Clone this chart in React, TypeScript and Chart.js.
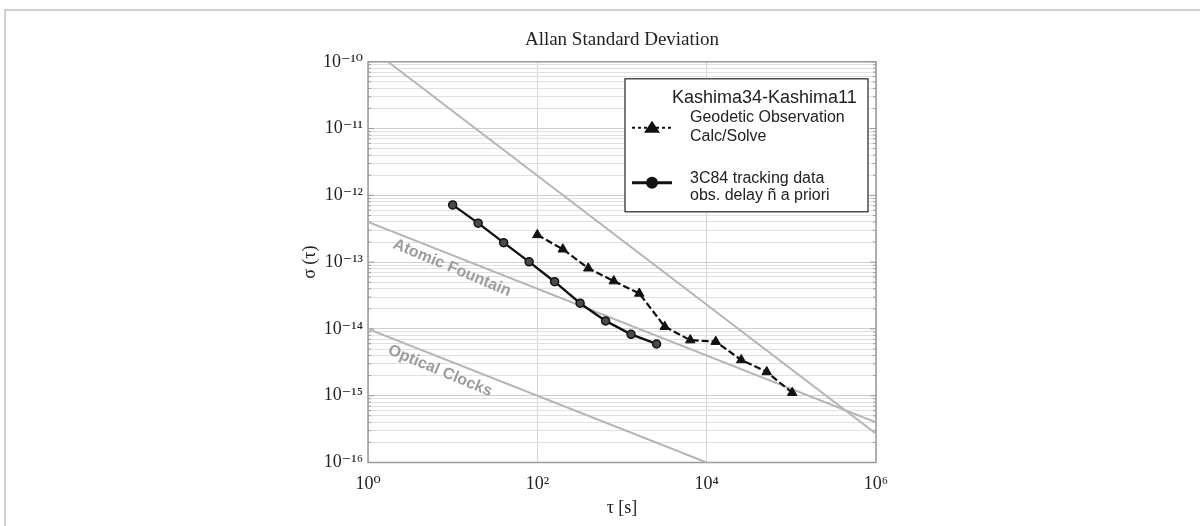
import React, { useEffect, useRef } from 'react';
import { Chart, registerables } from 'chart.js';

Chart.register(...registerables);

// ---- data ----
const trackingTau = [10, 20, 40, 80, 160, 320, 640, 1280, 2560];
const trackingSigma = [7.2e-13, 3.84e-13, 1.96e-13, 1.01e-13, 5.1e-14, 2.43e-14, 1.32e-14, 8.3e-15, 5.95e-15];

const geodeticTau = [100, 200, 400, 800, 1600, 3200, 6400, 12800, 25600, 51200, 102400];
const geodeticSigma = [2.56e-13, 1.56e-13, 8.1e-14, 5.2e-14, 3.4e-14, 1.08e-14, 6.8e-15, 6.45e-15, 3.43e-15, 2.27e-15, 1.11e-15];

const steepTau = [1.72, 1e6];
const steepSigma = [1e-10, 2.7e-16];
const fountainTau = [1, 1e6];
const fountainSigma = [4e-13, 4e-16];
const opticalTau = [1, 1e4];
const opticalSigma = [1e-14, 1e-16];

const xTickValues = [1, 1e2, 1e4, 1e6];
const yDecadeExponents = [-16, -15, -14, -13, -12, -11, -10];
const yMinorMultipliers = [2, 3, 4, 5, 6, 7, 8, 9];

const chartTitle = 'Allan Standard Deviation';
const xAxisTitle = 'τ [s]';
const yAxisTitle = 'σ (τ)';
const legendTitle = 'Kashima34-Kashima11';
const geodeticLabel = ['Geodetic Observation', 'Calc/Solve'];
const trackingLabel = ['3C84 tracking data', 'obs. delay ñ a priori'];
const fountainText = 'Atomic Fountain';
const opticalText = 'Optical Clocks';
const fountainTextAt = [9.8, 8.2e-14];
const opticalTextAt = [7.1, 2.35e-15];

const SERIF = "'Liberation Serif', 'DejaVu Serif', 'Times New Roman', serif";
const SANS = "'Liberation Sans', Arial, 'DejaVu Sans', sans-serif";

const SUP: Record<string, string> = {
  '-': '\u207B', '0': '\u2070', '1': '\u00B9', '2': '\u00B2', '3': '\u00B3',
  '4': '\u2074', '5': '\u2075', '6': '\u2076', '7': '\u2077', '8': '\u2078', '9': '\u2079',
};
const isDecade = (v: number) => Math.abs(Math.log10(v) - Math.round(Math.log10(v))) < 1e-6;
const powLabel = (v: number) => {
  const e = Math.round(Math.log10(v));
  return '10' + String(e).split('').map((c) => SUP[c]).join('');
};

const yTickValues: number[] = [];
yDecadeExponents.forEach((e, i) => {
  yTickValues.push(Math.pow(10, e));
  if (i < yDecadeExponents.length - 1) yMinorMultipliers.forEach((m) => yTickValues.push(m * Math.pow(10, e)));
});

const toPoints = (xs: number[], ys: number[]) => xs.map((x, i) => ({ x, y: ys[i] }));

const GRAY_LINE = '#b5b5b5';

const overlayPlugin = {
  id: 'overlay',
  beforeDatasetsDraw(chart: any) {
    const { ctx, chartArea, scales } = chart;
    const x = scales.x, y = scales.y;
    ctx.save();
    // plot frame
    ctx.strokeStyle = '#9a9a9a';
    ctx.lineWidth = 1.5;
    ctx.strokeRect(chartArea.left, chartArea.top, chartArea.right - chartArea.left, chartArea.bottom - chartArea.top);
    // small minor tick marks on left and right edges
    ctx.lineWidth = 1;
    yTickValues.forEach((v) => {
      const py = y.getPixelForValue(v);
      const len = isDecade(v) ? 6 : 3;
      ctx.beginPath();
      ctx.moveTo(chartArea.left, py); ctx.lineTo(chartArea.left + len, py);
      ctx.moveTo(chartArea.right, py); ctx.lineTo(chartArea.right - len, py);
      ctx.stroke();
    });
    // rotated annotations
    const drawLabel = (text: string, at: number[], tau: number[], sig: number[]) => {
      const px = x.getPixelForValue(at[0]);
      const py = y.getPixelForValue(at[1]);
      const dx = x.getPixelForValue(tau[1]) - x.getPixelForValue(tau[0]);
      const dy = y.getPixelForValue(sig[1]) - y.getPixelForValue(sig[0]);
      const ang = Math.atan2(dy, dx) + 0.02;
      ctx.save();
      ctx.translate(px, py);
      ctx.rotate(ang);
      ctx.font = `bold 16px ${SANS}`;
      ctx.fillStyle = '#9c9c9c';
      ctx.textAlign = 'center';
      ctx.textBaseline = 'middle';
      ctx.fillText(text, 0, 0);
      ctx.restore();
    };
    drawLabel(fountainText, fountainTextAt, fountainTau, fountainSigma);
    drawLabel(opticalText, opticalTextAt, opticalTau, opticalSigma);
    ctx.restore();
  },
  afterDatasetsDraw(chart: any) {
    const { ctx, chartArea } = chart;
    const L = chartArea.left + 257;
    const T = chartArea.top + 17;
    const W = 243;
    const H = 133;
    ctx.save();
    ctx.fillStyle = '#ffffff';
    ctx.fillRect(L, T, W, H);
    ctx.strokeStyle = '#222';
    ctx.lineWidth = 1.2;
    ctx.strokeRect(L, T, W, H);
    ctx.fillStyle = '#222';
    ctx.textAlign = 'left';
    ctx.textBaseline = 'middle';
    ctx.font = `18px ${SANS}`;
    ctx.fillText(legendTitle, L + 47, T + 19);
    ctx.font = `16px ${SANS}`;
    ctx.fillText(geodeticLabel[0], L + 65, T + 39);
    ctx.fillText(geodeticLabel[1], L + 65, T + 58);
    ctx.fillText(trackingLabel[0], L + 65, T + 100);
    ctx.fillText(trackingLabel[1], L + 65, T + 117);
    // symbol 1: dotted line + triangle
    const s1y = T + 49;
    ctx.strokeStyle = '#111';
    ctx.lineWidth = 2;
    ctx.setLineDash([3, 3]);
    ctx.beginPath(); ctx.moveTo(L + 7, s1y); ctx.lineTo(L + 47, s1y); ctx.stroke();
    ctx.setLineDash([]);
    ctx.fillStyle = '#111';
    ctx.beginPath();
    ctx.moveTo(L + 27, s1y - 7); ctx.lineTo(L + 35, s1y + 5); ctx.lineTo(L + 19, s1y + 5); ctx.closePath();
    ctx.fill();
    // symbol 2: solid line + circle
    const s2y = T + 104;
    ctx.lineWidth = 3;
    ctx.beginPath(); ctx.moveTo(L + 7, s2y); ctx.lineTo(L + 47, s2y); ctx.stroke();
    ctx.beginPath(); ctx.arc(L + 27, s2y, 6, 0, Math.PI * 2); ctx.fill();
    ctx.restore();
  },
};

export default function App() {
  const ref = useRef<HTMLCanvasElement>(null);
  useEffect(() => {
    const chart = new Chart(ref.current as HTMLCanvasElement, {
      type: 'line',
      data: {
        datasets: [
          {
            label: trackingLabel.join(' '),
            data: toPoints(trackingTau, trackingSigma),
            borderColor: '#111',
            borderWidth: 2.4,
            pointStyle: 'circle',
            pointRadius: 4,
            pointBackgroundColor: '#4a4a4a',
            pointBorderColor: '#111',
            pointBorderWidth: 1.5,
          },
          {
            label: geodeticLabel.join(' '),
            data: toPoints(geodeticTau, geodeticSigma),
            borderColor: '#111',
            borderWidth: 2.2,
            borderDash: [7, 3],
            pointStyle: 'triangle',
            pointRadius: 5.5,
            pointBackgroundColor: '#111',
            pointBorderColor: '#111',
            pointBorderWidth: 1,
          },
          {
            label: 'reference slope',
            data: toPoints(steepTau, steepSigma),
            borderColor: GRAY_LINE,
            borderWidth: 2,
            pointRadius: 0,
          },
          {
            label: fountainText,
            data: toPoints(fountainTau, fountainSigma),
            borderColor: GRAY_LINE,
            borderWidth: 2,
            pointRadius: 0,
          },
          {
            label: opticalText,
            data: toPoints(opticalTau, opticalSigma),
            borderColor: GRAY_LINE,
            borderWidth: 2,
            pointRadius: 0,
          },
        ],
      },
      options: {
        responsive: false,
        animation: false,
        events: [],
        layout: { padding: { left: 280, right: 324, top: 10, bottom: 0 } },
        plugins: {
          legend: { display: false },
          tooltip: { enabled: false },
          title: {
            display: true,
            text: chartTitle,
            fullSize: false,
            color: '#222',
            font: { family: SERIF, size: 19, weight: 'normal' },
            padding: { top: 19, bottom: 10 },
          },
        },
        scales: {
          x: {
            type: 'logarithmic',
            min: 1,
            max: 1e6,
            afterBuildTicks: (scale: any) => {
              scale.ticks = xTickValues.map((v) => ({ value: v }));
            },
            afterFit: (scale: any) => {
              scale.height = 63.5;
            },
            border: { display: false },
            grid: { color: '#d4d4d4', lineWidth: 1, drawTicks: false },
            ticks: {
              autoSkip: false,
              maxRotation: 0,
              padding: 11,
              color: '#222',
              font: { family: SERIF, size: 18 },
              callback: (v: any) => powLabel(Number(v)),
            },
            title: {
              display: true,
              text: xAxisTitle,
              color: '#222',
              font: { family: SERIF, size: 18 },
              padding: { top: 0, bottom: 7 },
            },
          },
          y: {
            type: 'logarithmic',
            min: 1e-16,
            max: 1e-10,
            afterBuildTicks: (scale: any) => {
              scale.ticks = yTickValues.map((v) => ({ value: v }));
            },
            afterFit: (scale: any) => {
              scale.width = 88;
            },
            border: { display: false },
            grid: {
              color: (c: any) => (c.tick && isDecade(c.tick.value) ? '#cfcfcf' : '#e0e0e0'),
              lineWidth: 1,
              drawTicks: false,
            },
            ticks: {
              autoSkip: false,
              padding: 5,
              color: '#222',
              font: { family: SERIF, size: 18 },
              callback: (v: any) => (isDecade(Number(v)) ? powLabel(Number(v)) : ''),
            },
            title: {
              display: true,
              text: yAxisTitle,
              color: '#222',
              font: { family: SERIF, size: 18 },
              padding: { top: 19, bottom: 0 },
            },
          },
        },
      } as any,
      plugins: [overlayPlugin],
    });
    return () => chart.destroy();
  }, []);

  return (
    <div style={{ position: 'absolute', left: 0, top: 0, width: 1200, height: 526, overflow: 'hidden', background: '#fff' }}>
      <div
        style={{
          position: 'absolute', left: 4, top: 9, width: 2000, height: 2000,
          borderLeft: '2px solid #cfcfcf', borderTop: '2px solid #cfcfcf',
        }}
      />
      <canvas ref={ref} width={1200} height={526} style={{ position: 'absolute', left: 0, top: 0, width: 1200, height: 526 }} />
    </div>
  );
}
